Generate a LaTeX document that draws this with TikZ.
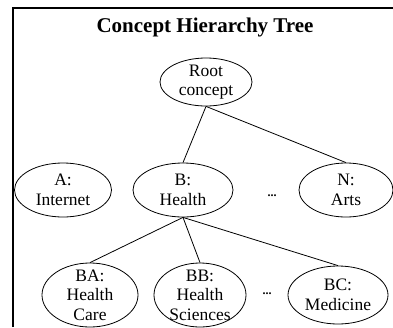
\documentclass[tikz,border=0pt]{standalone}
\usepackage{fontspec}
\setmainfont{Liberation Serif}
\usetikzlibrary{shapes.geometric}

\begin{document}
\begin{tikzpicture}[
  x=1pt, y=-1pt,
  concept/.style={draw, ellipse, line width=0.8pt, inner xsep=0pt, inner ysep=-10pt,
    align=center, font=\fontsize{17.5}{19.5}\selectfont},
  branch/.style={line width=0.8pt},
  gap/.style={font=\bfseries\fontsize{12}{12}\selectfont},
]
  \useasboundingbox (0,0) rectangle (393,327);

  % --- Frame and title ---
  \draw[line width=1.2pt] (13,327) -- (13,8) -- (393,8);
  \node[font=\bfseries\fontsize{21}{24}\selectfont, anchor=base] (title) at (205,32) {Concept Hierarchy Tree};

  % --- Root ---
  \node[concept, minimum width=92, minimum height=48] (root) at (206,82) {Root\\concept};

  % --- First level ---
  \node[concept, minimum width=97, minimum height=54] (A) at (63,190) {A:\\Internet};
  \node[concept, minimum width=100, minimum height=54] (B) at (183,190) {B:\\Health};
  \node[gap] (dotsA) at (272,196) {...};
  \node[concept, minimum width=94, minimum height=54] (N) at (346,190) {N:\\Arts};

  % --- Second level ---
  \node[concept, minimum width=96, minimum height=64] (BA) at (90,295) {BA:\\Health\\Care};
  \node[concept, minimum width=92, minimum height=64] (BB) at (200,295) {BB:\\Health\\Sciences};
  \node[gap] (dotsB) at (267,294) {...};
  \node[concept, minimum width=100, minimum height=58] (BC) at (338,295) {BC:\\Medicine};

  % --- Branches ---
  \draw[branch] (root.south) -- (B.north);
  \draw[branch] (root.south) -- (N.north);
  \foreach \kid in {BA,BB,BC}
    \draw[branch] (B.south) -- (\kid.north);
\end{tikzpicture}
\end{document}
